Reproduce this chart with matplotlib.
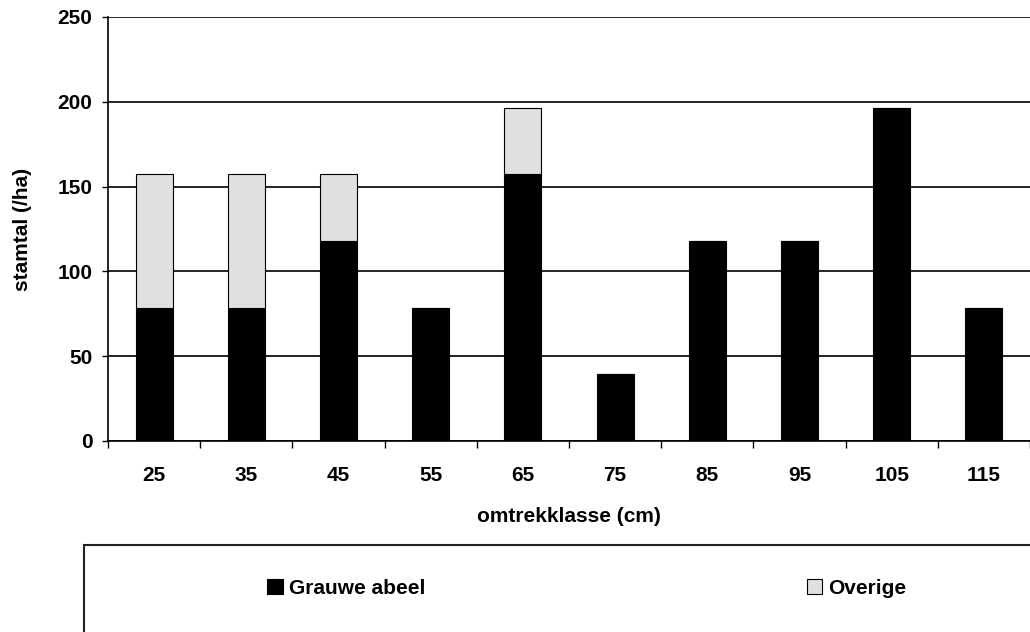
import numpy as np
import matplotlib
matplotlib.use("Agg")
import matplotlib.pyplot as plt
from matplotlib.patches import Rectangle

plt.rcParams['font.family'] = ['Liberation Sans', 'DejaVu Sans']
plt.rcParams['font.weight'] = 'bold'
plt.rcParams['axes.labelweight'] = 'bold'
plt.rcParams['font.size'] = 15

# data
klassen = ['25', '35', '45', '55', '65', '75', '85', '95', '105', '115']
grauwe_abeel = [78.6, 78.6, 117.9, 78.6, 157.2, 39.3, 117.9, 117.9, 196.5, 78.6]
overige = [78.6, 78.6, 39.3, 0, 39.3, 0, 0, 0, 0, 0]
yticks = [0, 50, 100, 150, 200, 250]

W, H = 1030, 632
fig = plt.figure(figsize=(W / 100, H / 100), dpi=100)
ax = fig.add_axes([108 / W, (H - 441) / H, (W - 108) / W, (441 - 17) / H])

x = np.arange(len(klassen))
b1 = ax.bar(x, grauwe_abeel, width=0.4, color='black', edgecolor='black',
            linewidth=0.8, label='Grauwe abeel')
b2 = ax.bar(x, overige, width=0.4, bottom=grauwe_abeel, color='#e0e0e0',
            edgecolor='black', linewidth=0.8, label='Overige')

ax.set_xlim(-0.5, len(klassen) - 0.5)
ax.set_ylim(0, 250)
ax.set_yticks(yticks)
ax.set_xticks(x)
ax.set_xticklabels(klassen)
ax.set_xticks(np.arange(len(klassen) + 1) - 0.5, minor=True)
ax.tick_params(axis='x', which='major', length=0, pad=18)
ax.tick_params(axis='x', which='minor', length=4.8, width=1, direction='out')
ax.tick_params(axis='y', length=4.3, width=1, direction='out', pad=7)

ax.yaxis.grid(True, color='black', linewidth=1.2)
ax.set_axisbelow(True)
for s in ['top', 'right']:
    ax.spines[s].set_visible(False)
for s in ['left', 'bottom']:
    ax.spines[s].set_linewidth(1.2)

ax.set_ylabel('stamtal (/ha)', va='center')
ax.yaxis.set_label_coords((23 - 108) / (W - 108), 0.5)
ax.set_xlabel('omtrekklasse (cm)', va='center')
ax.xaxis.set_label_coords(0.5, (441 - 516) / (441 - 17))

# legend box running off the figure edge
fig.add_artist(Rectangle((84 / W, -0.05), 1.0, (H - 545) / H + 0.05,
                         transform=fig.transFigure, fill=False,
                         edgecolor='#222222', linewidth=1.5))
fig.legend(handles=[b1, b2], labels=['Grauwe abeel', 'Overige'], ncol=2,
           frameon=False, loc='center left', bbox_to_anchor=(267 / W, 1 - 588 / H),
           borderpad=0, borderaxespad=0, handlelength=0.75, handleheight=0.75,
           handletextpad=0.3, columnspacing=18.3)

fig.savefig('out.png', dpi=100)
